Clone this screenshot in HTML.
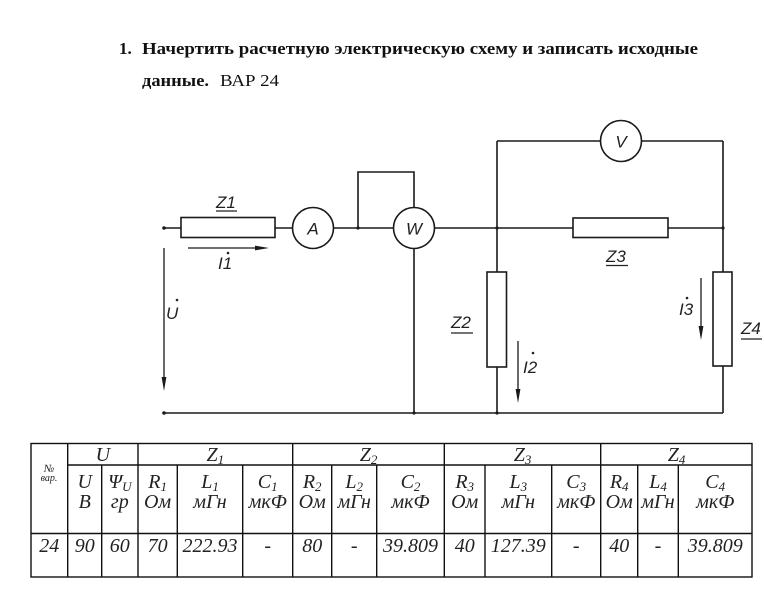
<!DOCTYPE html>
<html>
<head>
<meta charset="utf-8">
<style>
html,body{margin:0;padding:0;background:#fff;}
svg{display:block;}
.t{font-family:"Liberation Serif","Noto Serif CJK SC",serif;fill:#111;}
.c{font-family:"Liberation Sans","Noto Sans CJK SC",sans-serif;font-style:italic;fill:#222;font-size:17px;}
.tb{font-family:"Liberation Serif","Noto Serif CJK SC",serif;font-style:italic;fill:#222;font-size:20px;}
</style>
</head>
<body>
<svg width="764" height="589" viewBox="0 0 764 589" xmlns="http://www.w3.org/2000/svg">
<rect width="764" height="589" fill="#fff"/>

<!-- Title -->
<text class="t" x="119" y="54" font-size="17" font-weight="bold">1.</text>
<text class="t" x="142" y="54" font-size="17" font-weight="bold" textLength="556" lengthAdjust="spacingAndGlyphs">Начертить расчетную электрическую схему и записать исходные</text>
<text class="t" x="142" y="86" font-size="17" font-weight="bold" textLength="67" lengthAdjust="spacingAndGlyphs">данные.</text>
<text class="t" x="220" y="86" font-size="17" textLength="59" lengthAdjust="spacingAndGlyphs">ВАР 24</text>

<!-- Circuit -->
<g stroke="#1a1a1a" stroke-width="1.6" fill="none">
  <line x1="164" y1="228" x2="181" y2="228"/>
  <line x1="275" y1="228" x2="292.5" y2="228"/>
  <line x1="333.5" y1="228" x2="393.5" y2="228"/>
  <line x1="434.5" y1="228" x2="573" y2="228"/>
  <line x1="668" y1="228" x2="723" y2="228"/>
  <rect x="181" y="217.5" width="94" height="20" fill="#fff"/>
  <circle cx="313" cy="228" r="20.5" fill="#fff"/>
  <polyline points="358,228 358,172 414,172 414,207.5"/>
  <circle cx="414" cy="228" r="20.5" fill="#fff"/>
  <line x1="414" y1="248.5" x2="414" y2="413"/>
  <line x1="497" y1="141" x2="497" y2="272"/>
  <line x1="497" y1="367" x2="497" y2="413"/>
  <rect x="487" y="272" width="19.5" height="95" fill="#fff"/>
  <line x1="497" y1="141" x2="600.5" y2="141"/>
  <line x1="641.5" y1="141" x2="723" y2="141"/>
  <circle cx="621" cy="141" r="20.5" fill="#fff"/>
  <rect x="573" y="218" width="95" height="19.5" fill="#fff"/>
  <line x1="723" y1="141" x2="723" y2="272"/>
  <line x1="723" y1="366" x2="723" y2="413"/>
  <rect x="713" y="272" width="19" height="94" fill="#fff"/>
  <line x1="164" y1="413" x2="723" y2="413"/>
</g>

<g fill="#1a1a1a">
  <circle cx="164" cy="228" r="1.8"/>
  <circle cx="358" cy="228" r="1.6"/>
  <circle cx="497" cy="228" r="1.6"/>
  <circle cx="723" cy="228" r="1.6"/>
  <circle cx="164" cy="413" r="1.8"/>
  <circle cx="414" cy="413" r="1.6"/>
  <circle cx="497" cy="413" r="1.6"/>
</g>

<g stroke="#1a1a1a" stroke-width="1.3" fill="none">
  <line x1="164" y1="248" x2="164" y2="380"/>
  <line x1="188" y1="248" x2="258" y2="248"/>
  <line x1="518" y1="341" x2="518" y2="393"/>
  <line x1="701" y1="278" x2="701" y2="330"/>
</g>
<g fill="#1a1a1a">
  <polygon points="164,391 161.6,377 166.4,377"/>
  <polygon points="269,248 255,245.6 255,250.4"/>
  <polygon points="518,403 515.6,389 520.4,389"/>
  <polygon points="701,340 698.6,326 703.4,326"/>
</g>

<text class="c" x="313" y="234.5" text-anchor="middle">A</text>
<text class="c" x="414" y="234.5" text-anchor="middle">W</text>
<text class="c" x="621" y="147.5" text-anchor="middle">V</text>

<text class="c" x="216" y="208">Z1</text>
<line x1="216" y1="211" x2="237" y2="211" stroke="#222" stroke-width="1.2"/>

<text class="c" x="218" y="269">I1</text>
<circle cx="228" cy="253" r="1.3" fill="#222"/>

<text class="c" x="166" y="319">U</text>
<circle cx="177" cy="300" r="1.3" fill="#222"/>

<text class="c" x="606" y="262">Z3</text>
<line x1="606" y1="265.5" x2="628" y2="265.5" stroke="#222" stroke-width="1.2"/>

<text class="c" x="451" y="328">Z2</text>
<line x1="451" y1="333" x2="473" y2="333" stroke="#222" stroke-width="1.2"/>

<text class="c" x="741" y="334">Z4</text>
<line x1="741" y1="339" x2="762" y2="339" stroke="#222" stroke-width="1.2"/>

<text class="c" x="523" y="373">I2</text>
<circle cx="533" cy="353" r="1.3" fill="#222"/>

<text class="c" x="679" y="315">I3</text>
<circle cx="687" cy="298" r="1.3" fill="#222"/>

<!-- Table -->
<g stroke="#111" stroke-width="1.4" fill="none">
  <rect x="31" y="443.5" width="721" height="133.5"/>
  <line x1="67.7" y1="465" x2="752" y2="465"/>
  <line x1="31" y1="533.5" x2="752" y2="533.5"/>
  <line x1="67.7" y1="443.5" x2="67.7" y2="577"/>
  <line x1="138" y1="443.5" x2="138" y2="577"/>
  <line x1="292.7" y1="443.5" x2="292.7" y2="577"/>
  <line x1="444.3" y1="443.5" x2="444.3" y2="577"/>
  <line x1="600.7" y1="443.5" x2="600.7" y2="577"/>
  <line x1="101.7" y1="465" x2="101.7" y2="577"/>
  <line x1="177.3" y1="465" x2="177.3" y2="577"/>
  <line x1="242.7" y1="465" x2="242.7" y2="577"/>
  <line x1="331.7" y1="465" x2="331.7" y2="577"/>
  <line x1="376.7" y1="465" x2="376.7" y2="577"/>
  <line x1="485" y1="465" x2="485" y2="577"/>
  <line x1="551.7" y1="465" x2="551.7" y2="577"/>
  <line x1="637.7" y1="465" x2="637.7" y2="577"/>
  <line x1="678.3" y1="465" x2="678.3" y2="577"/>
</g>

<text x="49" y="472" text-anchor="middle" style="font-family:'Liberation Serif',serif;font-style:italic;font-size:11px;fill:#222;">№</text>
<text x="49" y="481" text-anchor="middle" style="font-family:'Liberation Serif',serif;font-style:italic;font-size:10px;fill:#222;">вар.</text>

<text class="tb" x="102.9" y="461" text-anchor="middle">U</text>
<text class="tb" x="215.3" y="461" text-anchor="middle">Z<tspan font-size="13" dy="3">1</tspan></text>
<text class="tb" x="368.5" y="461" text-anchor="middle">Z<tspan font-size="13" dy="3">2</tspan></text>
<text class="tb" x="522.5" y="461" text-anchor="middle">Z<tspan font-size="13" dy="3">3</tspan></text>
<text class="tb" x="676.5" y="461" text-anchor="middle">Z<tspan font-size="13" dy="3">4</tspan></text>

<text class="tb" x="84.7" y="488" text-anchor="middle">U</text>
<text class="tb" x="119.8" y="488" text-anchor="middle">Ψ<tspan font-size="13" dy="3">U</tspan></text>
<text class="tb" x="157.6" y="488" text-anchor="middle">R<tspan font-size="13" dy="3">1</tspan></text>
<text class="tb" x="210" y="488" text-anchor="middle">L<tspan font-size="13" dy="3">1</tspan></text>
<text class="tb" x="267.7" y="488" text-anchor="middle">C<tspan font-size="13" dy="3">1</tspan></text>
<text class="tb" x="312.2" y="488" text-anchor="middle">R<tspan font-size="13" dy="3">2</tspan></text>
<text class="tb" x="354.2" y="488" text-anchor="middle">L<tspan font-size="13" dy="3">2</tspan></text>
<text class="tb" x="410.5" y="488" text-anchor="middle">C<tspan font-size="13" dy="3">2</tspan></text>
<text class="tb" x="464.7" y="488" text-anchor="middle">R<tspan font-size="13" dy="3">3</tspan></text>
<text class="tb" x="518.3" y="488" text-anchor="middle">L<tspan font-size="13" dy="3">3</tspan></text>
<text class="tb" x="576.2" y="488" text-anchor="middle">C<tspan font-size="13" dy="3">3</tspan></text>
<text class="tb" x="619.2" y="488" text-anchor="middle">R<tspan font-size="13" dy="3">4</tspan></text>
<text class="tb" x="658" y="488" text-anchor="middle">L<tspan font-size="13" dy="3">4</tspan></text>
<text class="tb" x="715.2" y="488" text-anchor="middle">C<tspan font-size="13" dy="3">4</tspan></text>

<text class="tb" x="84.7" y="508" text-anchor="middle">B</text>
<text class="tb" x="119.8" y="508" text-anchor="middle">гр</text>
<text class="tb" x="157.6" y="508" text-anchor="middle">Ом</text>
<text class="tb" x="210" y="508" text-anchor="middle">мГн</text>
<text class="tb" x="267.7" y="508" text-anchor="middle">мкФ</text>
<text class="tb" x="312.2" y="508" text-anchor="middle">Ом</text>
<text class="tb" x="354.2" y="508" text-anchor="middle">мГн</text>
<text class="tb" x="410.5" y="508" text-anchor="middle">мкФ</text>
<text class="tb" x="464.7" y="508" text-anchor="middle">Ом</text>
<text class="tb" x="518.3" y="508" text-anchor="middle">мГн</text>
<text class="tb" x="576.2" y="508" text-anchor="middle">мкФ</text>
<text class="tb" x="619.2" y="508" text-anchor="middle">Ом</text>
<text class="tb" x="658" y="508" text-anchor="middle">мГн</text>
<text class="tb" x="715.2" y="508" text-anchor="middle">мкФ</text>

<text class="tb" x="49.3" y="552" text-anchor="middle">24</text>
<text class="tb" x="84.7" y="552" text-anchor="middle">90</text>
<text class="tb" x="119.8" y="552" text-anchor="middle">60</text>
<text class="tb" x="157.6" y="552" text-anchor="middle">70</text>
<text class="tb" x="210" y="552" text-anchor="middle">222.93</text>
<text class="tb" x="267.7" y="552" text-anchor="middle">-</text>
<text class="tb" x="312.2" y="552" text-anchor="middle">80</text>
<text class="tb" x="354.2" y="552" text-anchor="middle">-</text>
<text class="tb" x="410.5" y="552" text-anchor="middle">39.809</text>
<text class="tb" x="464.7" y="552" text-anchor="middle">40</text>
<text class="tb" x="518.3" y="552" text-anchor="middle">127.39</text>
<text class="tb" x="576.2" y="552" text-anchor="middle">-</text>
<text class="tb" x="619.2" y="552" text-anchor="middle">40</text>
<text class="tb" x="658" y="552" text-anchor="middle">-</text>
<text class="tb" x="715.2" y="552" text-anchor="middle">39.809</text>
</svg>
</body>
</html>
